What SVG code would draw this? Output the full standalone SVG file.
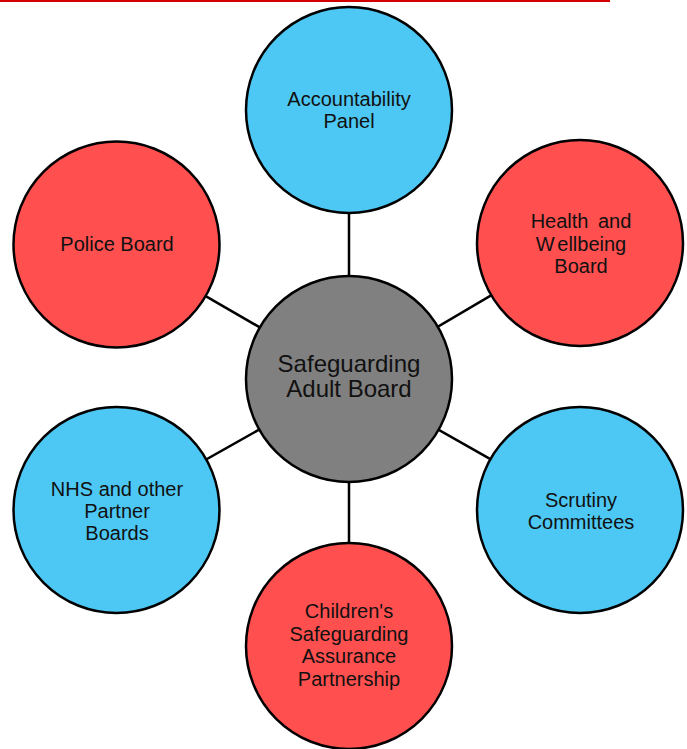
<svg xmlns="http://www.w3.org/2000/svg" width="687" height="749" viewBox="0 0 687 749">
<style>
.n{stroke:#000;stroke-width:2.5}
.blue{fill:#4DC8F4}
.red{fill:#FF4F4F}
.gray{fill:#808080}
text{font-family:"Liberation Sans",Arial,sans-serif;font-size:20px;fill:#111;text-anchor:middle}
.big{font-size:24px}
.c{stroke:#000;stroke-width:2.5}
</style>
<rect x="0" y="0" width="610" height="2" fill="#D40000"/>
<g id="connectors">
<line class="c" x1="349" y1="379" x2="349" y2="110"/>
<line class="c" x1="349" y1="379" x2="349" y2="646"/>
<line class="c" x1="349" y1="379" x2="116.5" y2="244.5"/>
<line class="c" x1="349" y1="379" x2="580" y2="243"/>
<line class="c" x1="349" y1="379" x2="116.5" y2="510"/>
<line class="c" x1="349" y1="379" x2="580" y2="510"/>
</g>
<g id="accountability">
<circle class="n blue" cx="349" cy="110" r="103"/>
<text x="349" y="106">Accountability</text>
<text x="349" y="128">Panel</text>
</g>
<g id="health">
<circle class="n red" cx="580" cy="243" r="103"/>
<text x="581" y="228" word-spacing="4">Health and</text>
<text x="581" y="251">W<tspan dx="3">ellbeing</tspan></text>
<text x="581" y="273">Board</text>
</g>
<g id="scrutiny">
<circle class="n blue" cx="580" cy="510" r="103"/>
<text x="581" y="507">Scrutiny</text>
<text x="581" y="529">Committees</text>
</g>
<g id="childrens">
<circle class="n red" cx="349" cy="646" r="103"/>
<text x="349" y="618">Children's</text>
<text x="349" y="641">Safeguarding</text>
<text x="349" y="663">Assurance</text>
<text x="349" y="686">Partnership</text>
</g>
<g id="nhs">
<circle class="n blue" cx="116.5" cy="510" r="103"/>
<text x="117" y="496">NHS and other</text>
<text x="117" y="518">Partner</text>
<text x="117" y="540">Boards</text>
</g>
<g id="police">
<circle class="n red" cx="116.5" cy="244.5" r="103"/>
<text x="117" y="251">Police Board</text>
</g>
<g id="sab">
<circle class="n gray" cx="349" cy="379" r="103"/>
<text class="big" x="349" y="372">Safeguarding</text>
<text class="big" x="349" y="397">Adult Board</text>
</g>
</svg>
